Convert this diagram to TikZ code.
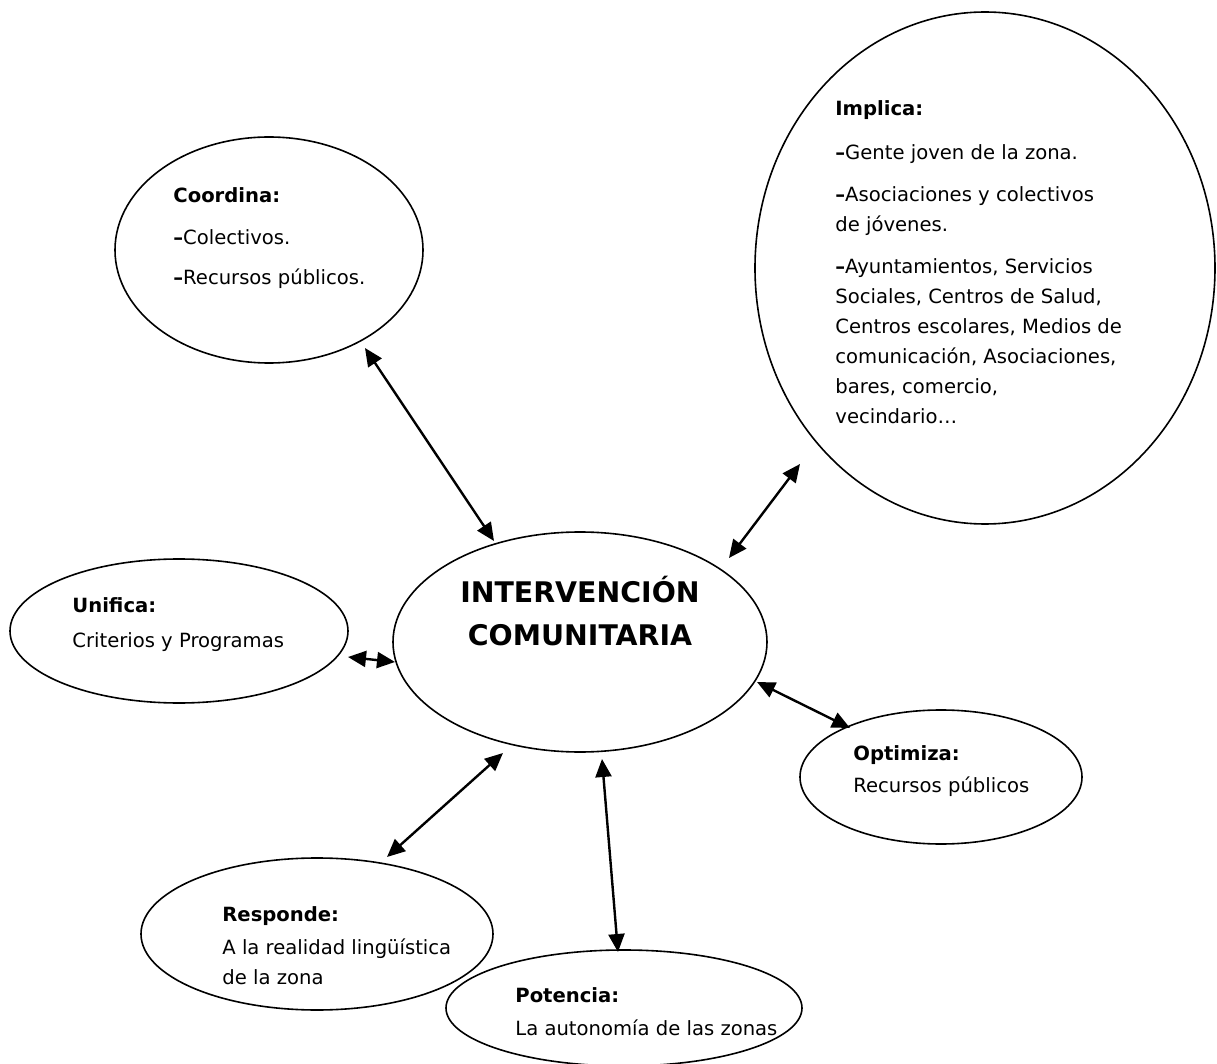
\documentclass[tikz,border=0pt]{standalone}
\usepackage{fontspec}
\setmainfont{DejaVu Sans}
\usetikzlibrary{shapes.geometric,arrows.meta}

\tikzset{
  bubble/.style={draw,ellipse,line width=0.8pt,inner sep=0pt},
  blurb/.style={anchor=north west,align=left,inner sep=0pt,font=\fontsize{9.8}{15}\selectfont},
  link/.style={line width=1.2pt,{Triangle[length=9pt,width=8pt]}-{Triangle[length=9pt,width=8pt]}}
}

\begin{document}
\begin{tikzpicture}[x=0.5pt,y=-0.5pt]
  \useasboundingbox (0,0) rectangle (1217,1064);
  % central ellipse
  \node[bubble,minimum width=187pt,minimum height=110pt] (central) at (580,642) {};
  \node[align=center,inner sep=0pt,font=\bfseries\fontsize{14.2}{21.5}\selectfont] (titulo) at (580,611) {INTERVENCIÓN\\COMUNITARIA};
  % coordina
  \node[bubble,minimum width=154pt,minimum height=113pt] (coordina) at (269,250) {};
  \node[blurb] (coordinatxt) at (173,187) {\textbf{Coordina:}\\[6pt]\textbf{–}Colectivos.\\[5pt]\textbf{–}Recursos públicos.};
  % implica
  \node[bubble,minimum width=230pt,minimum height=256pt] (implica) at (985,268) {};
  \node[blurb] (implicatxt) at (835,100) {\textbf{Implica:}\\[7pt]
    \textbf{–}Gente joven de la zona.\\[6pt]
    \textbf{–}Asociaciones y colectivos\\de jóvenes.\\[6pt]
    \textbf{–}Ayuntamientos, Servicios\\Sociales, Centros de Salud,\\Centros escolares, Medios de\\comunicación, Asociaciones,\\bares, comercio,\\vecindario…};
  % unifica
  \node[bubble,minimum width=169pt,minimum height=72pt] (unifica) at (179,631) {};
  \node[blurb] (unificatxt) at (72,597) {\textbf{Unifica:}\\[2.5pt]Criterios y Programas};
  % optimiza
  \node[bubble,minimum width=141pt,minimum height=67pt] (optimiza) at (941,777) {};
  \node[blurb] (optimizatxt) at (853,745) {\textbf{Optimiza:}\\[1pt]Recursos públicos};
  % responde
  \node[bubble,minimum width=176pt,minimum height=76pt] (responde) at (317,934) {};
  \node[blurb] (respondetxt) at (222,906) {\textbf{Responde:}\\[1.5pt]A la realidad lingüística\\de la zona};
  % potencia
  \node[bubble,minimum width=178pt,minimum height=58pt] (potencia) at (624,1008) {};
  \node[blurb] (potenciatxt) at (515,987) {\textbf{Potencia:}\\[1.5pt]La autonomía de las zonas};
  % arrows
  \coordinate (A) at (365,348); \coordinate (B) at (494,541);
  \coordinate (C) at (800,464); \coordinate (D) at (729,558);
  \coordinate (E) at (348,657); \coordinate (F) at (395,662);
  \coordinate (G) at (850,728); \coordinate (H) at (757,682);
  \coordinate (I) at (387,857); \coordinate (J) at (503,753);
  \coordinate (K) at (618,952); \coordinate (L) at (602,759);
  \draw[link] (A) -- (B);
  \draw[link] (C) -- (D);
  \draw[link] (E) -- (F);
  \draw[link] (G) -- (H);
  \draw[link] (I) -- (J);
  \draw[link] (K) -- (L);
\end{tikzpicture}
\end{document}
